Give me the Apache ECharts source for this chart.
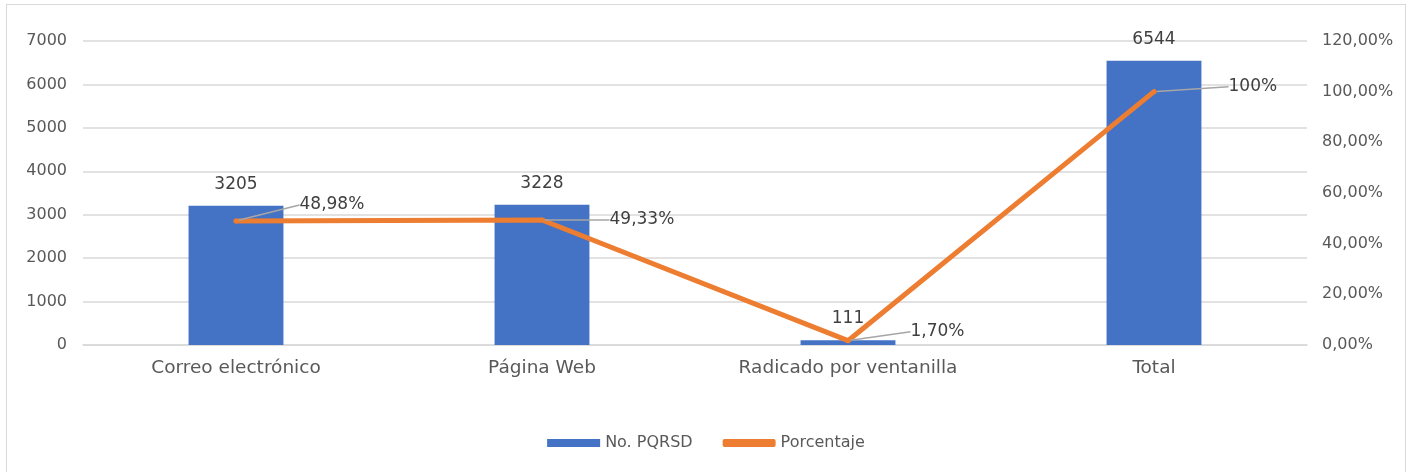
<!DOCTYPE html>
<html>
<head>
<meta charset="utf-8">
<script src="https://cdn.jsdelivr.net/npm/echarts@6/dist/echarts.min.js"></script>
<style>
html,body{margin:0;padding:0;background:#fff;}
#chart{position:absolute;left:0;top:0;width:1412px;height:472px;}
#frame{position:absolute;left:6px;top:4px;width:1400px;height:472px;border:1.5px solid #D9D9D9;box-sizing:border-box;pointer-events:none;}
</style>
</head>
<body>
<div id="chart"></div>
<div id="frame"></div>
<script>
const categories = ['Correo electrónico', 'Página Web', 'Radicado por ventanilla', 'Total'];
const pqrsd = [3205, 3228, 111, 6544];
const porcentaje = [48.98, 49.33, 1.70, 100];
const porcentajeLabels = ['48,98%', '49,33%', '1,70%', '100%'];
const leftTicks = [0, 1000, 2000, 3000, 4000, 5000, 6000, 7000];
const rightTicks = ['0,00%', '20,00%', '40,00%', '60,00%', '80,00%', '100,00%', '120,00%'];

// label offsets (styling only)
const labelShift = [[61, -16], [65, 0], [60, -9], [72, -5]];

const FONT = 'DejaVu Sans';
const chart = echarts.init(document.getElementById('chart'), null, {renderer: 'canvas'});
chart.setOption({
  animation: false,
  textStyle: {fontFamily: FONT},
  grid: {left: 83, right: 105, top: 41, bottom: 127, containLabel: false},
  legend: {
    bottom: 16, left: 'center', itemGap: 30, itemTextGap: 5,
    textStyle: {fontFamily: FONT, fontSize: 16, color: '#595959'},
    data: [
      {name: 'No. PQRSD', icon: 'rect', itemStyle: {color: '#4472C4'}},
      {name: 'Porcentaje', icon: 'roundRect', itemStyle: {color: '#ED7D31'}}
    ],
    itemWidth: 53, itemHeight: 8
  },
  xAxis: {
    type: 'category', data: categories,
    axisLine: {show: true, lineStyle: {color: '#D9D9D9', width: 1.5}},
    axisTick: {show: false},
    axisLabel: {fontFamily: FONT, fontSize: 18.5, color: '#595959', margin: 14}
  },
  yAxis: [
    {
      type: 'value', min: leftTicks[0], max: leftTicks[leftTicks.length - 1], interval: 1000,
      axisLine: {show: false}, axisTick: {show: false},
      splitLine: {lineStyle: {color: '#D9D9D9', width: 1.5}},
      axisLabel: {fontFamily: FONT, fontSize: 16, color: '#595959', margin: 16,
        formatter: function (v) { return String(v); }}
    },
    {
      type: 'value', min: 0, max: 120, interval: 20, position: 'right',
      axisLine: {show: false}, axisTick: {show: false}, splitLine: {show: false},
      axisLabel: {
        fontFamily: FONT, fontSize: 16, color: '#595959', margin: 15,
        formatter: function (v) { return rightTicks[Math.round(v / 20)]; }
      }
    }
  ],
  series: [
    {
      name: 'No. PQRSD', type: 'bar', data: pqrsd, barWidth: '31%',
      itemStyle: {color: '#4472C4'},
      label: {show: true, position: 'top', distance: 13, fontFamily: FONT, fontSize: 17, color: '#404040'}
    },
    {
      name: 'Porcentaje', type: 'line', yAxisIndex: 1, data: porcentaje,
      symbol: 'circle', symbolSize: 5, showSymbol: true,
      lineStyle: {color: '#ED7D31', width: 5, cap: 'round', join: 'round'},
      itemStyle: {color: '#ED7D31'},
      z: 3,
      label: {
        show: true, position: 'right', distance: 0,
        fontFamily: FONT, fontSize: 17, color: '#404040',
        formatter: function (p) { return porcentajeLabels[p.dataIndex]; }
      },
      labelLine: {show: true, lineStyle: {color: '#A6A6A6', width: 1.5}},
      labelLayout: function (p) {
        const s = labelShift[p.dataIndex];
        return {dx: s[0], dy: s[1]};
      }
    }
  ]
});
</script>
</body>
</html>
